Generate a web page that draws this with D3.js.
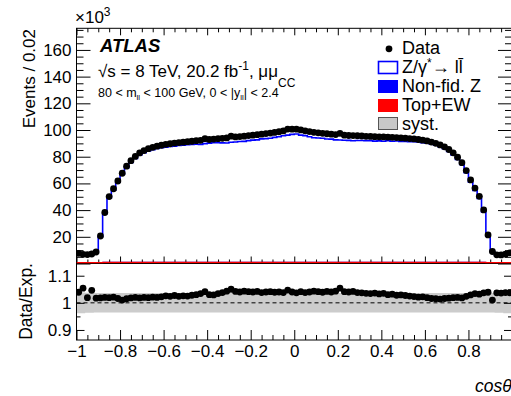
<!DOCTYPE html>
<html><head><meta charset="utf-8">
<script src="https://cdn.jsdelivr.net/npm/d3@7"></script>
<style>
body{margin:0;background:#fff}
svg{display:block;font-family:"Liberation Sans",Arial,Helvetica,sans-serif}
</style>
</head><body>
<svg id="c" width="511" height="396"></svg>
<script>
// ---- data (events in units of 10^3 per bin of 0.02 in cos theta) ----
const xTickLabels = [-1,-0.8,-0.6,-0.4,-0.2,0,0.2,0.4,0.6,0.8];
const yTickLabels = [20,40,60,80,100,120,140,160];
const ratioTickLabels = [0.9,1,1.1];

const dataK = [
 7.6,6.9,6.7,7.1,8.6,20.6,38.2,50.1,56.0,61.8,
 67.6,72.9,77.0,80.2,82.8,84.6,86.0,87.0,87.9,88.6,
 89.3,89.7,90.2,90.6,90.9,91.3,91.6,92.0,92.3,93.5,
 92.9,93.2,93.5,93.8,94.1,95.4,94.8,95.1,95.4,95.8,
 96.1,96.5,96.9,97.3,97.7,98.2,98.7,99.3,100.7,100.6,
 100.6,100.1,99.4,98.8,98.3,97.9,97.5,97.2,96.9,96.6,
 97.5,96.1,95.9,95.8,95.7,95.5,95.3,95.2,95.0,94.9,
 94.8,94.7,94.5,94.3,94.1,93.9,93.6,93.3,92.9,92.4,
 91.8,91.0,90.0,88.8,87.4,85.4,82.9,79.6,75.5,69.6,
 62.6,56.5,50.3,40.1,21.4,9.0,6.5,6.4,7.0,8.0
];
const ratio = [
 1.039,1.054,1.019,1.046,1.017,1.018,1.020,1.019,1.021,1.016,
 1.010,1.015,1.018,1.020,1.018,1.020,1.019,1.021,1.020,1.022,
 1.026,1.024,1.027,1.024,1.026,1.025,1.028,1.030,1.034,1.041,
 1.030,1.029,1.034,1.038,1.043,1.050,1.042,1.040,1.043,1.041,
 1.040,1.042,1.038,1.040,1.041,1.039,1.040,1.038,1.047,1.040,
 1.037,1.041,1.038,1.040,1.043,1.041,1.039,1.042,1.040,1.043,
 1.054,1.041,1.040,1.042,1.038,1.037,1.035,1.034,1.036,1.033,
 1.035,1.030,1.032,1.028,1.029,1.027,1.025,1.023,1.021,1.022,
 1.019,1.016,1.015,1.014,1.016,1.017,1.019,1.020,1.018,1.024,
 1.029,1.034,1.032,1.037,1.039,1.010,1.037,1.036,1.038,1.037
];
const syst = [
 0.038,0.038,0.037,0.037,0.036,0.036,0.036,0.036,0.036,0.036,
 0.036,0.036,0.036,0.036,0.036,0.036,0.036,0.036,0.036,0.036,
 0.036,0.036,0.036,0.036,0.036,0.036,0.036,0.036,0.036,0.036,
 0.036,0.036,0.036,0.036,0.036,0.036,0.036,0.036,0.036,0.036,
 0.036,0.036,0.036,0.036,0.036,0.036,0.036,0.036,0.036,0.036,
 0.036,0.036,0.036,0.036,0.036,0.036,0.036,0.036,0.036,0.036,
 0.036,0.036,0.036,0.036,0.036,0.036,0.036,0.036,0.036,0.036,
 0.036,0.036,0.036,0.036,0.036,0.036,0.036,0.036,0.036,0.036,
 0.036,0.036,0.036,0.036,0.036,0.036,0.036,0.036,0.036,0.036,
 0.036,0.036,0.036,0.036,0.036,0.036,0.037,0.037,0.038,0.038
];
const topEW = [
 0.6,0.6,0.6,0.6,0.6,0.6,0.7,0.7,0.7,0.7,
 0.7,0.7,0.7,0.7,0.7,0.7,0.7,0.7,0.7,0.7,
 0.7,0.7,0.7,0.7,0.7,0.7,0.7,0.7,0.7,0.7,
 0.7,0.7,0.7,0.7,0.7,0.7,0.7,0.7,0.7,0.7,
 0.7,0.7,0.7,0.7,0.7,0.7,0.7,0.7,0.7,0.7,
 0.7,0.7,0.7,0.7,0.7,0.7,0.7,0.7,0.7,0.7,
 0.7,0.7,0.7,0.7,0.7,0.7,0.7,0.7,0.7,0.7,
 0.7,0.7,0.7,0.7,0.7,0.7,0.7,0.7,0.7,0.7,
 0.7,0.7,0.7,0.7,0.7,0.7,0.7,0.7,0.7,0.7,
 0.7,0.7,0.7,0.7,0.6,0.6,0.6,0.6,0.6,0.6
];
const nonFid = [
 0.5,0.5,0.5,0.5,0.5,0.5,0.6,0.6,0.6,0.6,
 0.6,0.6,0.6,0.6,0.6,0.6,0.6,0.6,0.6,0.6,
 0.6,0.6,0.6,0.6,0.6,0.6,0.6,0.6,0.6,0.6,
 0.6,0.6,0.6,0.6,0.6,0.6,0.6,0.6,0.6,0.6,
 0.6,0.6,0.6,0.6,0.6,0.6,0.6,0.6,0.6,0.6,
 0.6,0.6,0.6,0.6,0.6,0.6,0.6,0.6,0.6,0.6,
 0.6,0.6,0.6,0.6,0.6,0.6,0.6,0.6,0.6,0.6,
 0.6,0.6,0.6,0.6,0.6,0.6,0.6,0.6,0.6,0.6,
 0.6,0.6,0.6,0.6,0.6,0.6,0.6,0.6,0.6,0.6,
 0.6,0.6,0.6,0.6,0.5,0.5,0.5,0.5,0.5,0.5
];
const nBins = dataK.length;
const binWidth = 0.02;
const xLow = d3.range(nBins).map(i => -1 + binWidth * i);

// ---- layout ----
const svg = d3.select("#c");
const X0 = 76.5, X1 = 512, YT = 28.3, YM = 263.5, YB = 340;
const x = d3.scaleLinear().domain([-1, 1]).range([X0, X1]);
const y = d3.scaleLinear().domain([0, 176.2]).range([YM, YT]);
const yr = d3.scaleLinear().domain([0.863, 1.145]).range([YB, YM]);
const FONT = '"Liberation Sans",Arial,Helvetica,sans-serif';

const defs = svg.append("defs");
defs.append("clipPath").attr("id","cm").append("rect").attr("x",X0).attr("y",YT).attr("width",X1-X0).attr("height",YM-YT);
defs.append("clipPath").attr("id","cr").append("rect").attr("x",X0).attr("y",YM).attr("width",X1-X0).attr("height",YB-YM);

const total = dataK.map((d,i) => d / ratio[i]);
const stepPts = arr => arr.map((v,i) => [xLow[i], v]).concat([[1, arr[arr.length-1]]]);
const blueTop = topEW.map((v,i) => v + nonFid[i]);

// ---- main panel ----
const gm = svg.append("g").attr("clip-path","url(#cm)");
gm.append("path")
  .datum(xLow.map((x0,i)=>({x0, lo: topEW[i], hi: blueTop[i]})).concat([{x0:1, lo: topEW[nBins-1], hi: blueTop[nBins-1]}]))
  .attr("fill","#0000ff")
  .attr("d", d3.area().curve(d3.curveStepAfter).x(d=>x(d.x0)).y0(d=>y(d.lo)).y1(d=>y(d.hi)));
gm.append("path")
  .datum(stepPts(topEW))
  .attr("fill","#ff0000")
  .attr("d", d3.area().curve(d3.curveStepAfter).x(d=>x(d[0])).y0(y(0)).y1(d=>y(d[1])));
gm.append("path")
  .datum(stepPts(total))
  .attr("fill","none").attr("stroke","#0000ff").attr("stroke-width",1.6)
  .attr("d", d3.line().curve(d3.curveStepAfter).x(d=>x(d[0])).y(d=>y(d[1])));
gm.selectAll("circle.d").data(dataK).join("circle")
  .attr("cx",(d,i)=>x(xLow[i]+binWidth/2)).attr("cy",d=>y(d)).attr("r",3.4).attr("fill","#000");

// ---- ratio panel ----
const gr = svg.append("g").attr("clip-path","url(#cr)");
gr.append("path")
  .datum(xLow.map((x0,i)=>({x0, s: syst[i]})).concat([{x0:1, s: syst[nBins-1]}]))
  .attr("fill","#cccccc")
  .attr("d", d3.area().curve(d3.curveStepAfter).x(d=>x(d.x0)).y0(d=>yr(1-d.s)).y1(d=>yr(1+d.s)));
gr.append("line").attr("x1",X0).attr("x2",X1).attr("y1",yr(1)).attr("y2",yr(1))
  .attr("stroke","#000").attr("stroke-width",1).attr("stroke-dasharray","4,3");
gr.selectAll("circle").data(ratio).join("circle")
  .attr("cx",(d,i)=>x(xLow[i]+binWidth/2)).attr("cy",d=>yr(d)).attr("r",3.4).attr("fill","#000");

// ---- axes ----
const fmtX = d => { const v = Math.round(d*10)/10; return (v===0?"0":String(v)).replace("-","\u2212"); };
const xMaj = d3.range(-10, 11, 2).map(v => v/10);
const xMin = d3.range(-20, 21).filter(v => v % 4 !== 0).map(v => v/20);
function axis(gen, vals, size, fmt, pad, tr) {
  const g = svg.append("g").attr("transform", tr)
    .call(gen.tickValues(vals).tickSize(size).tickPadding(pad).tickFormat(fmt || (() => "")));
  g.select(".domain").remove();
  g.attr("font-size", 17).attr("font-family", FONT);
  g.selectAll("line").attr("stroke","#000").attr("stroke-width",1);
  g.selectAll("text").attr("fill","#000");
  return g;
}
// main panel
axis(d3.axisLeft(y), [0].concat(yTickLabels), -14, d => d===0 ? "" : String(d), 5, `translate(${X0},0)`);
axis(d3.axisLeft(y), d3.range(0, 177, 5).filter(v => v % 20 !== 0), -7, null, 5, `translate(${X0},0)`);
axis(d3.axisRight(y), [0].concat(yTickLabels), -14, null, 5, `translate(${X1},0)`);
axis(d3.axisRight(y), d3.range(0, 177, 5).filter(v => v % 20 !== 0), -7, null, 5, `translate(${X1},0)`);
axis(d3.axisTop(x), xMaj, -7, null, 5, `translate(0,${YT})`);
axis(d3.axisTop(x), xMin, -4, null, 5, `translate(0,${YT})`);
axis(d3.axisBottom(x), xMaj, -7, null, 5, `translate(0,${YM})`);
axis(d3.axisBottom(x), xMin, -4, null, 5, `translate(0,${YM})`);
// ratio panel
axis(d3.axisBottom(x), xMaj, -10, null, 5, `translate(0,${YB})`);
axis(d3.axisBottom(x), xTickLabels, 0, fmtX, 5, `translate(0,${YB})`);
axis(d3.axisBottom(x), xMin, -5, null, 5, `translate(0,${YB})`);
axis(d3.axisLeft(yr), ratioTickLabels, -8, d => String(d), 5, `translate(${X0},0)`);
axis(d3.axisLeft(yr), [0.95, 1.05], -4, null, 5, `translate(${X0},0)`);
axis(d3.axisRight(yr), ratioTickLabels, -8, null, 5, `translate(${X1},0)`);
axis(d3.axisRight(yr), [0.95, 1.05], -4, null, 5, `translate(${X1},0)`);

// frames
svg.append("rect").attr("x",X0).attr("y",YT).attr("width",X1-X0).attr("height",YM-YT)
  .attr("fill","none").attr("stroke","#000").attr("stroke-width",1);
svg.append("rect").attr("x",X0).attr("y",YM).attr("width",X1-X0).attr("height",YB-YM)
  .attr("fill","none").attr("stroke","#000").attr("stroke-width",1);
// red Top+EW outline drawn over the frame line, as in the reference
svg.append("g").attr("clip-path","url(#cm)").append("path")
  .datum(stepPts(topEW))
  .attr("fill","none").attr("stroke","#ff0000").attr("stroke-width",1.5)
  .attr("d", d3.line().curve(d3.curveStepAfter).x(d=>x(d[0])).y(d=>y(d[1])));

// ---- texts ----
const T = (xx, yy, size, txt) => svg.append("text").attr("x",xx).attr("y",yy)
  .attr("font-size",size).attr("font-family",FONT).attr("fill","#000").text(txt);

// multiplier
const mult = svg.append("text").attr("x",75).attr("y",23).attr("font-size",17).attr("font-family",FONT);
mult.append("tspan").text("\u00d710");
mult.append("tspan").attr("font-size",12).attr("dy",-7).text("3");

// axis titles
svg.append("text").attr("transform","translate(35,29) rotate(-90)").attr("text-anchor","end")
  .attr("font-size",17).attr("font-family",FONT).text("Events / 0.02");
svg.append("text").attr("transform","translate(32,263) rotate(-90)").attr("text-anchor","end")
  .attr("font-size",17.5).attr("font-family",FONT).text("Data/Exp.");
svg.append("text").attr("x",475).attr("y",392).attr("font-size",17.5).attr("font-style","italic")
  .attr("font-family",FONT).text("cos\u03b8");

// ATLAS labels
T(100, 52, 18.5, "ATLAS").attr("font-weight","bold").attr("font-style","italic");
const l2 = svg.append("text").attr("x",98).attr("y",77).attr("font-size",17).attr("font-family",FONT);
l2.append("tspan").text("\u221as = 8 TeV, 20.2 fb");
l2.append("tspan").attr("font-size",12).attr("dy",-7).text("-1");
l2.append("tspan").attr("dy",7).text(", \u03bc\u03bc");
l2.append("tspan").attr("font-size",12).attr("dy",10).text("CC");
const l3 = svg.append("text").attr("x",98).attr("y",97).attr("font-size",12.5).attr("font-family",FONT);
l3.append("tspan").text("80 < m");
l3.append("tspan").attr("font-size",8).attr("dy",3).text("ll");
l3.append("tspan").attr("dy",-3).text(" < 100 GeV, 0 < |y");
l3.append("tspan").attr("font-size",8).attr("dy",3).text("ll");
l3.append("tspan").attr("dy",-3).text("| < 2.4");

// ---- legend ----
const LX = 402;
svg.append("circle").attr("cx",389).attr("cy",48.8).attr("r",3.4).attr("fill","#000");
T(LX, 53.5, 18, "Data");
svg.append("rect").attr("x",378.5).attr("y",61.5).attr("width",19).attr("height",12)
  .attr("fill","#fff").attr("stroke","#0000ff").attr("stroke-width",1.6);
const lz = svg.append("text").attr("x",LX).attr("y",73).attr("font-size",18).attr("font-family",FONT);
lz.append("tspan").text("Z/\u03b3");
lz.append("tspan").attr("font-size",12).attr("dy",-6).text("*");
lz.append("tspan").attr("dy",6).text("\u2192 ll\u0304");
svg.append("rect").attr("x",378).attr("y",80).attr("width",20).attr("height",13).attr("fill","#0000ff");
T(LX, 92, 18, "Non-fid. Z");
svg.append("rect").attr("x",378).attr("y",99).attr("width",20).attr("height",13).attr("fill","#ff0000");
T(LX, 111, 18, "Top+EW");
svg.append("rect").attr("x",378.5).attr("y",117.5).attr("width",19).attr("height",12)
  .attr("fill","#c8c8c8").attr("stroke","#555").attr("stroke-width",1);
T(LX, 129.5, 18, "syst.");
</script>
</body></html>
